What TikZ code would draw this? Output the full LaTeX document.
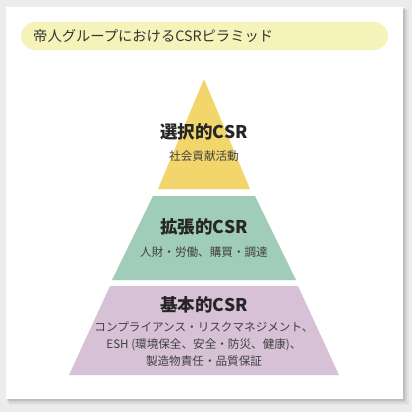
\documentclass[tikz,border=0pt]{standalone}
\usepackage{fontspec}
\setmainfont{Noto Sans CJK JP}
\definecolor{pyryellow}{HTML}{F3D66B}
\definecolor{pyrgreen}{HTML}{A0CDB9}
\definecolor{pyrpurple}{HTML}{D6C1D6}
\definecolor{titlebg}{HTML}{F5F3BA}
\definecolor{outerbg}{HTML}{ECECEC}
\tikzset{
  head/.style={font=\fontsize{17.5}{20}\selectfont\bfseries,text=black!85},
  sub/.style={font=\fontsize{11.6}{17}\selectfont,text=black!75,align=center},
}
\begin{document}
\begin{tikzpicture}[x=1pt,y=-1pt]
        \fill[outerbg] (0,0) rectangle (412,412);
        \useasboundingbox (0,0) rectangle (412,412);
        % panel with shadow
        \foreach \s/\o in {6/0.04,4/0.06,2/0.1}
            \fill[black,opacity=\o] (6+\s/2,7+\s/2) rectangle (403+\s,399+\s);
        \fill[white] (6,7) rectangle (403,399);

        % title
        \fill[titlebg,rounded corners=14pt] (21,22) rectangle (388,50);
        \node[anchor=west,inner sep=0pt,font=\fontsize{14.3}{16}\selectfont,text=black!80] (title) at (33,36) {帝人グループにおけるCSRピラミッド};

        % pyramid
        \fill[pyryellow] (204,79) -- (250,189) -- (158,189) -- cycle;
        \fill[pyrgreen] (153,196) -- (255,196) -- (296,280) -- (112,280) -- cycle;
        \fill[pyrpurple] (110,286) -- (298,286) -- (339,375) -- (69,375) -- cycle;

        \node[head] (sel) at (204,132) {選択的CSR};
        \node[sub] (selsub) at (204,156) {社会貢献活動};
        \node[head] (ext) at (204,227) {拡張的CSR};
        \node[sub] (extsub) at (204,252) {人財・労働、購買・調達};
        \node[head] (bas) at (204,305) {基本的CSR};
        \node[sub] (bassub) at (204,344) {コンプライアンス・リスクマネジメント、\\ESH (環境保全、安全・防災、健康)、\\製造物責任・品質保証};
    \end{tikzpicture}
\end{document}
